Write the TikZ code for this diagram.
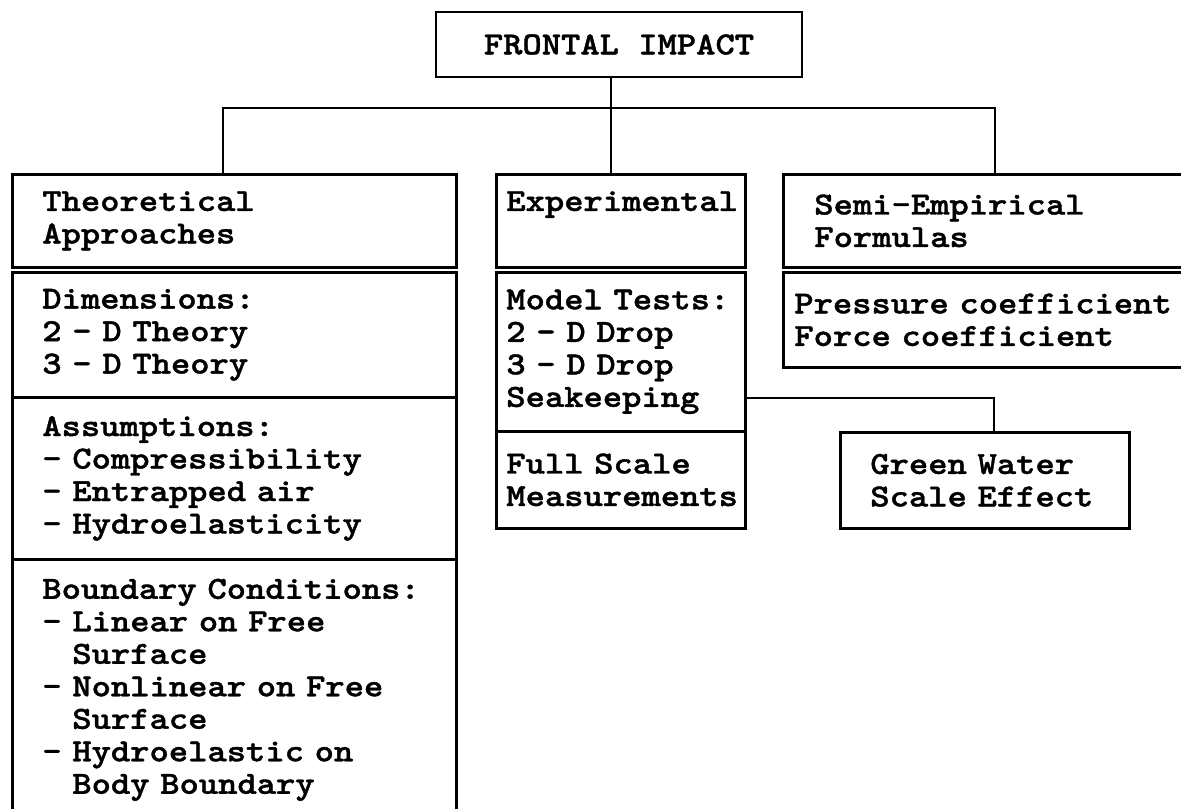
\documentclass[tikz,border=0pt]{standalone}
\usepackage{fontspec}
\newfontfamily\courb[FakeStretch=1.143,FakeBold=1.2]{lmmonolt10-bold.otf}
\newcommand{\boxfont}{\courb\fontsize{19.3pt}{19.5pt}\selectfont\spaceskip=11.58pt\relax}
\begin{document}
\begin{tikzpicture}[x=0.6pt,y=-0.6pt,
  lw/.style={line width=1.6pt},
  cell/.style={draw,lw,rectangle,anchor=north west,align=left,inner ysep=1pt,
    font=\boxfont},
  colL/.style={cell,inner xsep=18pt,text width=230.4pt},
  colM/.style={cell,inner xsep=6pt,text width=137.4pt},
  conn/.style={lw,line join=miter}]
\useasboundingbox[fill=white] (0,0) rectangle (1181,809);

% top
\node[draw,lw,rectangle,minimum width=219.6pt,minimum height=39pt,inner sep=1pt,
  font=\boxfont] (top) at (619,44.5) {FRONTAL IMPACT};

% left column
\node[colL,minimum height=55.8pt] (th) at (11,173) {Theoretical\\Approaches};
\node[colL,minimum height=75pt] (td) at (11,271) {Dimensions:\\2 - D Theory\\3 - D Theory};
\node[colL,minimum height=97.2pt] (ta) at (11,396) {Assumptions:\\- Compressibility\\- Entrapped air\\- Hydroelasticity};
\node[colL,minimum height=156.6pt] (tb) at (11,558) {Boundary Conditions:\\- Linear on Free\\\phantom{-~}Surface\\- Nonlinear on Free\\\phantom{-~}Surface\\- Hydroelastic on\\\phantom{-~}Body Boundary};

% middle column
\node[colM,minimum height=55.8pt] (eh) at (495,173) {Experimental\\\phantom{Approaches}};
\node[colM,minimum height=95.4pt] (em) at (495,271) {Model Tests:\\2 - D Drop\\3 - D Drop\\Seakeeping};
\node[colM,minimum height=58.2pt] (ef) at (495,430) {Full Scale\\Measurements};

% right column
\node[cell,inner xsep=18.6pt,text width=214.8pt,minimum height=55.8pt] (sh) at (782,173) {Semi-Empirical\\Formulas};
\node[cell,inner xsep=6.6pt,text width=238.8pt,minimum height=57pt] (sp) at (782,271) {Pressure coefficient\\Force coefficient};

% green water
\node[cell,inner xsep=18pt,text width=137.4pt,minimum height=57.6pt] (gw) at (839,431) {Green Water\\Scale Effect};

% connectors
\coordinate (jt) at (611,108);
\coordinate (bl) at (223,108);
\coordinate (br) at (995,108);
\coordinate (gk) at (994,398);
\draw[conn] (top.south -| jt) -- (jt);
\draw[conn] (th.north -| bl) -- (bl) -- (br) -- (sh.north -| br);
\draw[conn] (jt) -- (eh.north -| jt);
\draw[conn] (em.east |- gk) -- (gk) -- (gw.north -| gk);
\end{tikzpicture}
\end{document}
